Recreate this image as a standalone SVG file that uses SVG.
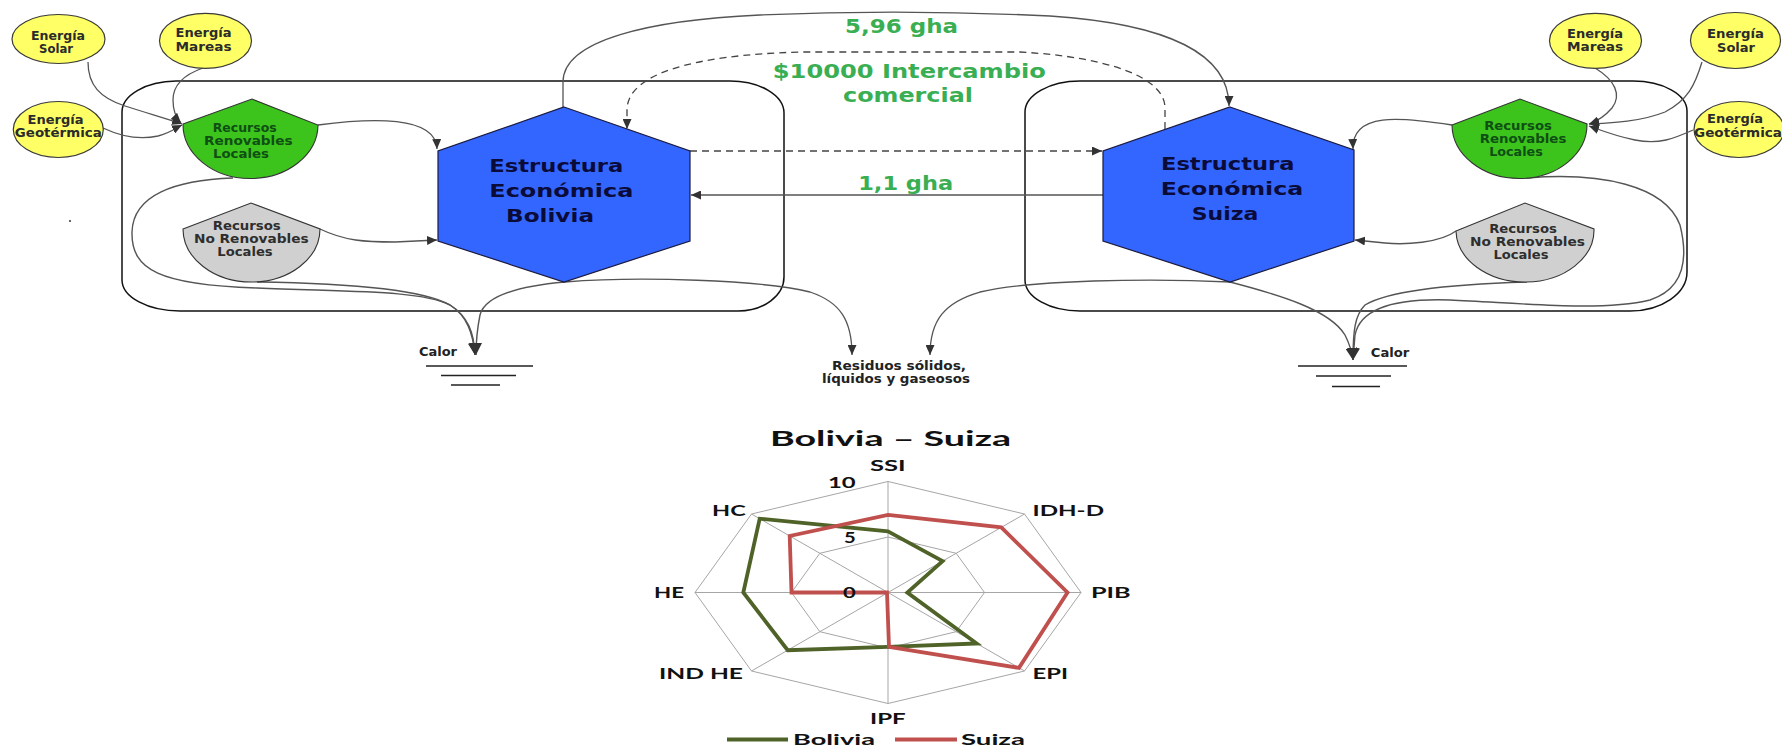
<svg xmlns="http://www.w3.org/2000/svg" width="1782" height="747" viewBox="0 0 1782 747">
  <style>
    .bg { fill: #ffffff; }
    .energy { fill: #ffff66; stroke: #3a3a3a; stroke-width: 1.2; }
    .etext { font-family: "DejaVu Sans", Verdana, sans-serif; font-weight: bold; font-size: 12px; fill: #2b2b2b; text-anchor: middle; }
    .shield-g { fill: #3cc31c; stroke: #333333; stroke-width: 1.1; }
    .shield-n { fill: #d0d0d0; stroke: #333333; stroke-width: 1.1; }
    .stext-g { font-family: "DejaVu Sans", Verdana, sans-serif; font-weight: bold; font-size: 11.5px; fill: #0f4f14; text-anchor: middle; }
    .stext-n { font-family: "DejaVu Sans", Verdana, sans-serif; font-weight: bold; font-size: 11.5px; fill: #2e2e2e; text-anchor: middle; }
    .hex { fill: #3366ff; stroke: #1a1a40; stroke-width: 1.2; }
    .htext { font-family: "DejaVu Sans", Verdana, sans-serif; font-weight: bold; font-size: 18.5px; fill: #0b0b3a; text-anchor: middle; }
    .flowlbl { font-family: "DejaVu Sans", Verdana, sans-serif; font-weight: bold; font-size: 20px; fill: #3aae52; text-anchor: middle; }
    .small { font-family: "DejaVu Sans", Verdana, sans-serif; font-weight: bold; font-size: 12px; fill: #222222; text-anchor: middle; }
    .boundary { fill: none; stroke: #111111; stroke-width: 1.5; }
    .flow { fill: none; stroke: #555555; stroke-width: 1.3; marker-end: url(#arr); }
    .flowd { fill: none; stroke: #444444; stroke-width: 1.3; stroke-dasharray: 7 5; marker-end: url(#arr); }
    .heat { fill: none; stroke: #555555; stroke-width: 1.4; marker-end: url(#arrBig); }
    .ground { stroke: #222222; stroke-width: 1.3; }
    .grid { fill: none; stroke: #a6a6a6; stroke-width: 1; }
    .bol { fill: none; stroke: #4f6228; stroke-width: 3.8; stroke-linejoin: miter; }
    .sui { fill: none; stroke: #c0504d; stroke-width: 3.8; stroke-linejoin: miter; }
    .ctext { font-family: Lato, "DejaVu Sans", sans-serif; font-weight: bold; font-size: 15px; fill: #111111; }
    .ctitle { font-family: Lato, "DejaVu Sans", sans-serif; font-weight: bold; font-size: 21px; fill: #111111; text-anchor: middle; }
  </style>
  <defs>
    <marker id="arr" markerUnits="userSpaceOnUse" markerWidth="11" markerHeight="9" refX="10" refY="4.5" orient="auto">
      <path d="M0,0 L10,4.5 L0,9 Z" fill="#333333"/>
    </marker>
    <marker id="arrBig" markerUnits="userSpaceOnUse" markerWidth="13" markerHeight="12" refX="12" refY="6" orient="auto">
      <path d="M0,0 L12,6 L0,12 Z" fill="#333333"/>
    </marker>
  </defs>

  <rect class="bg" x="0" y="0" width="1782" height="747"/>

  <!-- system boundaries -->
  <g id="boundaries">
    <path class="boundary" d="M176,81 H730 A54,32 0 0 1 784,113 V277 A46,34 0 0 1 738,311 H180 A58,31 0 0 1 122,280 V112 A55,31 0 0 1 176,81 Z"/>
    <path class="boundary" d="M1080,81 H1633 A54,30 0 0 1 1687,111 V272 A57,39 0 0 1 1630,311 H1080 A55,31 0 0 1 1025,280 V112 A55,31 0 0 1 1080,81 Z"/>
  </g>

  <!-- flows between nodes -->
  <g id="connectors">
    <!-- left energy inputs -->
    <path class="flow" d="M88,62 C88,85 100,98 125,106 C150,114 168,119 182,124"/>
    <path class="flow" d="M203,68 C180,76 173,88 173,100 C173,112 176,118 181,123"/>
    <path class="flow" d="M103,128 C120,136 140,140 158,136 C170,133 176,128 182,125"/>
    <!-- right energy inputs -->
    <path class="flow" d="M1595,68 C1615,80 1622,95 1612,108 C1605,116 1598,121 1589,124"/>
    <path class="flow" d="M1702,62 C1695,85 1688,100 1665,112 C1640,122 1610,123 1589,124"/>
    <path class="flow" d="M1693,130 C1675,138 1660,145 1635,140 C1615,136 1600,130 1589,126"/>
    <!-- resources into economies -->
    <path class="flow" d="M318,125 C370,118 436,115 437,149"/>
    <path class="flow" d="M320,229 C345,241 365,242 395,242 L437,240"/>
    <path class="flow" d="M1452,125 C1400,117 1352,112 1353,149"/>
    <path class="flow" d="M1456,231 C1440,243 1405,245 1385,243 L1355,240"/>
    <!-- exchanges between economies -->
    <path class="flow" d="M563,107 L563,82 C563,40 650,20 760,15 C850,11 950,11 1050,16 C1170,24 1229,55 1229,106"/>
    <path class="flowd" d="M1165,129 L1165,108 C1165,78 1110,57 1020,52 L800,52 C690,55 627,75 627,110 L627,129"/>
    <path class="flowd" d="M690,151 L1102,151"/>
    <path class="flow" d="M1103,195 L691,195"/>
    <!-- heat losses, left -->
    <path class="heat" d="M233,178 C175,180 133,195 132,232 C131,270 160,285 257,288 C350,292 420,290 450,305 C468,316 474,333 475,355"/>
    <path class="heat" d="M257,282 C330,283 420,288 450,305 C467,316 473,333 475,355"/>
    <path class="heat" d="M565,282 C520,286 485,295 480,315 C477,330 476,340 476,355"/>
    <!-- heat losses, right -->
    <path class="heat" d="M1230,282 C1280,295 1330,310 1345,335 C1350,345 1352,352 1353,360"/>
    <path class="heat" d="M1527,178 C1600,172 1665,185 1680,225 C1690,265 1680,290 1650,300 C1600,312 1520,303 1450,300 C1390,298 1360,310 1355,335 L1353,360"/>
    <path class="heat" d="M1527,282 C1460,284 1390,290 1365,305 C1355,315 1353,330 1353,360"/>
    <!-- waste -->
    <path class="flow" d="M565,282 C640,276 760,280 810,292 C840,302 852,320 852,355"/>
    <path class="flow" d="M1230,282 C1150,278 1030,280 980,292 C945,302 930,320 930,355"/>
  </g>

  <!-- energy sources, left -->
  <g id="solar-left">
    <ellipse class="energy" cx="58.5" cy="39" rx="46.5" ry="24.5"/>
    <text class="etext" x="58" y="39.5" textLength="54" lengthAdjust="spacingAndGlyphs">Energía</text>
    <text class="etext" x="56" y="52.5" textLength="34" lengthAdjust="spacingAndGlyphs">Solar</text>
  </g>
  <g id="mareas-left">
    <ellipse class="energy" cx="205.5" cy="40.8" rx="46" ry="27.5"/>
    <text class="etext" x="203.5" y="37" textLength="56" lengthAdjust="spacingAndGlyphs">Energía</text>
    <text class="etext" x="203.5" y="50.5" textLength="56" lengthAdjust="spacingAndGlyphs">Mareas</text>
  </g>
  <g id="geo-left">
    <ellipse class="energy" cx="58.3" cy="129.5" rx="45" ry="28"/>
    <text class="etext" x="55.5" y="124" textLength="56" lengthAdjust="spacingAndGlyphs">Energía</text>
    <text class="etext" x="58.3" y="136.5" textLength="87" lengthAdjust="spacingAndGlyphs">Geotérmica</text>
  </g>

  <!-- energy sources, right -->
  <g id="mareas-right">
    <ellipse class="energy" cx="1595.5" cy="40.8" rx="46" ry="27.5"/>
    <text class="etext" x="1595" y="37.5" textLength="56" lengthAdjust="spacingAndGlyphs">Energía</text>
    <text class="etext" x="1595" y="51" textLength="56" lengthAdjust="spacingAndGlyphs">Mareas</text>
  </g>
  <g id="solar-right">
    <ellipse class="energy" cx="1735.5" cy="40.5" rx="45" ry="28"/>
    <text class="etext" x="1735.5" y="37.5" textLength="57" lengthAdjust="spacingAndGlyphs">Energía</text>
    <text class="etext" x="1736" y="51.5" textLength="38" lengthAdjust="spacingAndGlyphs">Solar</text>
  </g>
  <g id="geo-right">
    <ellipse class="energy" cx="1739" cy="129.5" rx="45" ry="28"/>
    <text class="etext" x="1735" y="123" textLength="56" lengthAdjust="spacingAndGlyphs">Energía</text>
    <text class="etext" x="1738" y="136.5" textLength="88" lengthAdjust="spacingAndGlyphs">Geotérmica</text>
  </g>

  <!-- local resources, left -->
  <g id="renovables-left">
    <path class="shield-g" d="M183,124 L252,99 L318,125 A67.5,54 0 0 1 183,124 Z"/>
    <text class="stext-g" x="244.7" y="131.5" textLength="64" lengthAdjust="spacingAndGlyphs">Recursos</text>
    <text class="stext-g" x="248.3" y="144.5" textLength="88.7" lengthAdjust="spacingAndGlyphs">Renovables</text>
    <text class="stext-g" x="241" y="158" textLength="56" lengthAdjust="spacingAndGlyphs">Locales</text>
  </g>
  <g id="no-renovables-left">
    <path class="shield-n" d="M183,229 L251,203 L320,229 A68.5,53 0 0 1 183,229 Z"/>
    <text class="stext-n" x="246.7" y="229.8" textLength="68" lengthAdjust="spacingAndGlyphs">Recursos</text>
    <text class="stext-n" x="251.3" y="243.2" textLength="114.7" lengthAdjust="spacingAndGlyphs">No Renovables</text>
    <text class="stext-n" x="245" y="256" textLength="55.4" lengthAdjust="spacingAndGlyphs">Locales</text>
  </g>

  <!-- local resources, right -->
  <g id="renovables-right">
    <path class="shield-g" d="M1452,125 L1520,99 L1587,124 A67.5,54 0 0 1 1452,125 Z"/>
    <text class="stext-g" x="1518" y="129.8" textLength="67.7" lengthAdjust="spacingAndGlyphs">Recursos</text>
    <text class="stext-g" x="1523" y="143.2" textLength="86.7" lengthAdjust="spacingAndGlyphs">Renovables</text>
    <text class="stext-g" x="1516" y="156.2" textLength="53.7" lengthAdjust="spacingAndGlyphs">Locales</text>
  </g>
  <g id="no-renovables-right">
    <path class="shield-n" d="M1456,231 L1525,203 L1594,229 A69,52 0 0 1 1456,231 Z"/>
    <text class="stext-n" x="1523" y="232.5" textLength="67.7" lengthAdjust="spacingAndGlyphs">Recursos</text>
    <text class="stext-n" x="1527.5" y="245.8" textLength="115" lengthAdjust="spacingAndGlyphs">No Renovables</text>
    <text class="stext-n" x="1521" y="259.2" textLength="55" lengthAdjust="spacingAndGlyphs">Locales</text>
  </g>

  <!-- economies -->
  <g id="economia-bolivia">
    <polygon class="hex" points="564,107 690,151 690,241 564,282 438,241 438,151"/>
    <text class="htext" x="556.3" y="172.3" textLength="134" lengthAdjust="spacingAndGlyphs">Estructura</text>
    <text class="htext" x="561.3" y="197.3" textLength="144" lengthAdjust="spacingAndGlyphs">Económica</text>
    <text class="htext" x="550" y="222.3" textLength="88" lengthAdjust="spacingAndGlyphs">Bolivia</text>
  </g>
  <g id="economia-suiza">
    <polygon class="hex" points="1230,107 1354,150 1354,241 1230,282 1103,241 1103,151"/>
    <text class="htext" x="1227.7" y="170" textLength="133.3" lengthAdjust="spacingAndGlyphs">Estructura</text>
    <text class="htext" x="1232" y="195" textLength="142.3" lengthAdjust="spacingAndGlyphs">Económica</text>
    <text class="htext" x="1225" y="220" textLength="66.7" lengthAdjust="spacingAndGlyphs">Suiza</text>
  </g>

  <!-- flow labels -->
  <g id="flow-labels">
    <text class="flowlbl" x="901.5" y="33.3" textLength="113" lengthAdjust="spacingAndGlyphs">5,96 gha</text>
    <text class="flowlbl" x="909.3" y="78.3" textLength="273" lengthAdjust="spacingAndGlyphs">$10000 Intercambio</text>
    <text class="flowlbl" x="908" y="101.7" textLength="130" lengthAdjust="spacingAndGlyphs">comercial</text>
    <text class="flowlbl" x="905.7" y="190" textLength="95" lengthAdjust="spacingAndGlyphs">1,1 gha</text>
  </g>

  <!-- sinks -->
  <g id="calor-left">
    <text class="small" x="438" y="355.5" textLength="38" lengthAdjust="spacingAndGlyphs">Calor</text>
    <line class="ground" x1="426" y1="366" x2="533" y2="366"/>
    <line class="ground" x1="441" y1="375.5" x2="516" y2="375.5" stroke="#555555"/>
    <line class="ground" x1="451" y1="385" x2="500" y2="385"/>
  </g>
  <g id="calor-right">
    <text class="small" x="1390" y="357" textLength="38.5" lengthAdjust="spacingAndGlyphs">Calor</text>
    <line class="ground" x1="1298" y1="366" x2="1407" y2="366"/>
    <line class="ground" x1="1316" y1="376" x2="1391" y2="376" stroke="#555555"/>
    <line class="ground" x1="1332" y1="386.5" x2="1380" y2="386.5"/>
  </g>
  <g id="residuos">
    <text class="small" x="899" y="369.5" textLength="134" lengthAdjust="spacingAndGlyphs">Residuos sólidos,</text>
    <text class="small" x="896" y="383.2" textLength="148" lengthAdjust="spacingAndGlyphs">líquidos y gaseosos</text>
  </g>
  <circle cx="70" cy="221" r="1.1" fill="#444444"/>

  <!-- radar chart -->
  <g id="radar">
    <text class="ctitle" x="890.5" y="445.5" textLength="241" lengthAdjust="spacingAndGlyphs">Bolivia – Suiza</text>
    <g id="radar-grid">
      <polygon class="grid" points="888,481.5 1024.5,514 1081,592.5 1024.5,671 888,703.5 751.5,671 695,592.5 751.5,514"/>
      <polygon class="grid" points="888,537 956.2,553.3 984.5,592.5 956.2,631.7 888,648 819.8,631.7 791.5,592.5 819.8,553.3"/>
      <path class="grid" d="M888,592.5 L888,481.5 M888,592.5 L1024.5,514 M888,592.5 L1081,592.5 M888,592.5 L1024.5,671 M888,592.5 L888,703.5 M888,592.5 L751.5,671 M888,592.5 L695,592.5 M888,592.5 L751.5,514"/>
    </g>
    <polygon id="serie-bolivia" class="bol" points="888,531.4 942.6,561.1 907.3,592.5 976.7,643.5 888,646.9 787.7,650.2 743.3,592.5 759.7,518.7"/>
    <polygon id="serie-suiza" class="sui" points="888,514.8 1001.3,527.4 1067.5,592.5 1019,667.9 889,646.9 887,592.5 791.5,592.5 789.7,536"/>
    <g id="radar-labels">
      <text class="ctext" x="870" y="470.7" textLength="35.7" lengthAdjust="spacingAndGlyphs">SSI</text>
      <text class="ctext" x="828" y="488.3" font-size="16" textLength="27.7" lengthAdjust="spacingAndGlyphs">10</text>
      <text class="ctext" x="844" y="543.3" font-size="16" textLength="11.7" lengthAdjust="spacingAndGlyphs">5</text>
      <text class="ctext" x="843" y="598.3" font-size="16" textLength="12.7" lengthAdjust="spacingAndGlyphs">0</text>
      <text class="ctext" x="712" y="516" textLength="33.7" lengthAdjust="spacingAndGlyphs">HC</text>
      <text class="ctext" x="1032.5" y="516" textLength="71.5" lengthAdjust="spacingAndGlyphs">IDH-D</text>
      <text class="ctext" x="654" y="598.3" textLength="30" lengthAdjust="spacingAndGlyphs">HE</text>
      <text class="ctext" x="1091" y="598.3" textLength="39.7" lengthAdjust="spacingAndGlyphs">PIB</text>
      <text class="ctext" x="659" y="679" textLength="84" lengthAdjust="spacingAndGlyphs">IND HE</text>
      <text class="ctext" x="1032.5" y="679" textLength="35.5" lengthAdjust="spacingAndGlyphs">EPI</text>
      <text class="ctext" x="870" y="724.3" textLength="35.7" lengthAdjust="spacingAndGlyphs">IPF</text>
    </g>
    <g id="radar-legend">
      <line x1="727" y1="739.5" x2="788" y2="739.5" stroke="#4f6228" stroke-width="4"/>
      <text class="ctext" x="793" y="744.5" textLength="82" lengthAdjust="spacingAndGlyphs">Bolivia</text>
      <line x1="895" y1="739.5" x2="957" y2="739.5" stroke="#c0504d" stroke-width="4"/>
      <text class="ctext" x="961" y="744.5" textLength="64" lengthAdjust="spacingAndGlyphs">Suiza</text>
    </g>
  </g>
</svg>
